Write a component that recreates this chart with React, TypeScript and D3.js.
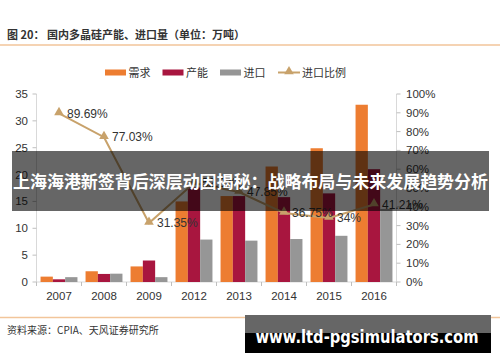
import React from "react";
import * as d3 from "d3";

const categories = ["2007", "2008", "2009", "2012", "2013", "2014", "2015", "2016"];
const demand = [1.0, 2.0, 2.9, 15.0, 16.0, 21.5, 24.9, 33.0];
const capacity = [0.5, 1.5, 4.0, 17.6, 16.0, 15.8, 16.5, 21.0];
const imports = [0.9, 1.55, 0.9, 7.9, 7.7, 8.0, 8.6, 13.6];
const importRatio = [89.69, 77.03, 31.35, 52.67, 47.85, 36.75, 34.0, 41.21];
const ratioLabels = ["89.69%", "77.03%", "31.35%", "52.67%", "47.85%", "36.75%", "34%", "41.21%"];
const leftTicks = [0, 5, 10, 15, 20, 25, 30, 35];
const rightTicks = [0, 10, 20, 30, 40, 50, 60, 70, 80, 90, 100];
const seriesNames = ["需求", "产能", "进口"];
const lineName = "进口比例";

const COLORS = ["#ED7D31", "#A8163F", "#969696"];
const LINE_COLOR = "#C8A26B";
const TXT = "#333333";
const FONT = "'Liberation Sans', Arial, 'Noto Sans CJK SC', sans-serif";
const CJK = "'Noto Sans CJK SC', 'Liberation Sans', sans-serif";

export default function App() {
  const W = 500, H = 362;
  const left = 36.5, right = 396.5, top = 94, bottom = 282;

  const x = d3.scaleBand<string>().domain(categories).range([left, right]).paddingInner(0.18).paddingOuter(0.09);
  const sub = d3.scaleBand<number>().domain([0, 1, 2]).range([0, x.bandwidth()]).padding(0);
  const yL = d3.scaleLinear().domain([0, 35]).range([bottom, top]);
  const yR = d3.scaleLinear().domain([0, 100]).range([bottom, top]);
  const xc = (c: string) => (x(c) as number) + x.bandwidth() / 2;

  const series = [demand, capacity, imports];
  const line = d3.line<number>().x((_, i) => xc(categories[i])).y((v) => yR(v));
  const tri = d3.symbol().type(d3.symbolTriangle).size(40)();

  const step = (right - left) / categories.length;

  return (
    <svg width={W} height={H} style={{ position: "fixed", left: 0, top: 0, background: "#fff" }} fontFamily={FONT}>
      <rect x={0} y={0} width={W} height={H} fill="#fff" />
      {/* Title */}
      <text x={7} y={39} fontSize={11} fill={TXT} fontFamily={CJK} fontWeight={700}>
        图 20：  国内多晶硅产能、进口量（单位：万吨）
      </text>
      <line x1={0} x2={W} y1={45} y2={45} stroke="#F2C59A" strokeWidth={1.5} />

      {/* Legend */}
      {seriesNames.map((n, i) => {
        const lx = [105, 162.5, 220][i];
        return (
          <g key={n}>
            <rect x={lx} y={69.5} width={21} height={6} fill={COLORS[i]} />
            <text x={lx + 23.5} y={76.5} fontSize={11} fill={TXT} fontFamily={CJK}>{n}</text>
          </g>
        );
      })}
      <line x1={278} x2={300} y1={72.5} y2={72.5} stroke={LINE_COLOR} strokeWidth={2} />
      <path d={tri as string} transform="translate(289,71.5)" fill={LINE_COLOR} />
      <text x={302} y={76.5} fontSize={11} fill={TXT} fontFamily={CJK}>{lineName}</text>

      {/* Axes */}
      <line x1={left} x2={left} y1={top} y2={bottom} stroke="#D9D9D9" />
      <line x1={right} x2={right} y1={top} y2={bottom} stroke="#D9D9D9" />
      <line x1={left} x2={right} y1={bottom} y2={bottom} stroke="#D9D9D9" />
      {leftTicks.map((t) => (
        <g key={"l" + t}>
          <line x1={left - 4} x2={left} y1={yL(t)} y2={yL(t)} stroke="#BFBFBF" />
          <text x={28} y={yL(t)} dy="0.35em" textAnchor="end" fontSize={11.5} fill={TXT}>{t}</text>
        </g>
      ))}
      {rightTicks.map((t) => (
        <g key={"r" + t}>
          <line x1={right} x2={right + 4} y1={yR(t)} y2={yR(t)} stroke="#BFBFBF" />
          <text x={406} y={yR(t)} dy="0.35em" textAnchor="start" fontSize={11.5} fill={TXT}>{t + "%"}</text>
        </g>
      ))}
      {d3.range(categories.length + 1).map((i) => (
        <line key={"xt" + i} x1={left + i * step} x2={left + i * step} y1={bottom} y2={bottom + 4} stroke="#BFBFBF" />
      ))}
      {categories.map((c) => (
        <text key={"xl" + c} x={xc(c)} y={296} dy="0.35em" textAnchor="middle" fontSize={11.5} fill={TXT}>{c}</text>
      ))}

      {/* Bars */}
      {series.map((vals, si) =>
        vals.map((v, i) => (
          <rect
            key={si + "-" + i}
            x={(x(categories[i]) as number) + (sub(si) as number)}
            y={yL(v)}
            width={sub.bandwidth()}
            height={bottom - yL(v)}
            fill={COLORS[si]}
          />
        ))
      )}

      {/* Line */}
      <path d={line(importRatio) as string} fill="none" stroke={LINE_COLOR} strokeWidth={2} />
      {importRatio.map((v, i) => (
        <path key={"m" + i} d={tri as string} transform={`translate(${xc(categories[i])},${yR(v) - 1})`} fill={LINE_COLOR} />
      ))}
      {importRatio.map((v, i) => (
        <text key={"dl" + i} x={xc(categories[i]) + 8} y={yR(v)} dy="0.35em" fontSize={12} fill={TXT}>{ratioLabels[i]}</text>
      ))}

      {/* Footer */}
      <line x1={0} x2={W} y1={317.5} y2={317.5} stroke="#F2C59A" strokeWidth={1.5} />
      <text x={7} y={333.5} fontSize={10} fill={TXT} fontFamily={CJK}>资料来源：CPIA、天风证券研究所</text>

      {/* Overlay banner */}
      <rect x={12} y={151} width={477} height={60} fill="rgba(0,0,0,0.6)" />
      <text x={250.5} y={182} dy="0.35em" textAnchor="middle" fontSize={17} fontWeight={700} fill="#fff" fontFamily={CJK} textLength={475} lengthAdjust="spacingAndGlyphs">
        上海海港新签背后深层动因揭秘：战略布局与未来发展趋势分析
      </text>

      {/* Watermark */}
      <rect x={245} y={315} width={246} height={38} fill="#000" />
      <rect x={245} y={315} width={246} height={18} fill="#666" />
      <text x={367} y={337} dy="0.35em" textAnchor="middle" fontSize={18} fontWeight={700} fill="#fff" fontFamily="'DejaVu Sans', Verdana, sans-serif" textLength={223} lengthAdjust="spacingAndGlyphs">
        www.ltd-pgsimulators.com
      </text>
    </svg>
  );
}
